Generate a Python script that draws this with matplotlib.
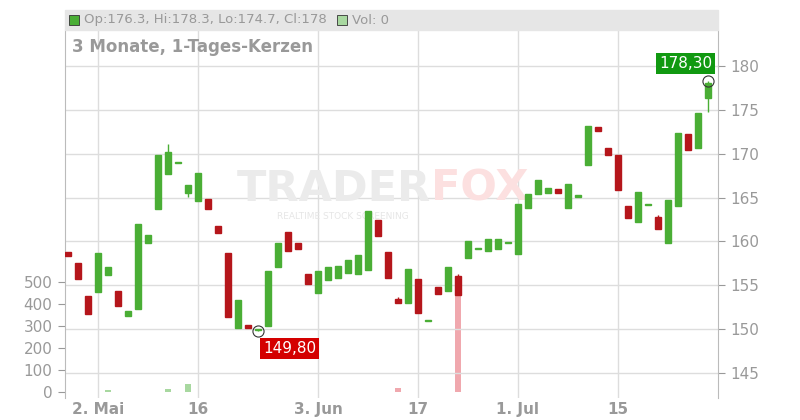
import matplotlib.pyplot as plt
from matplotlib.patches import Rectangle

# daily candles, 3 months
opens = [158.8, 157.5, 153.8, 154.2, 156.2, 154.3, 151.5, 152.3, 159.8, 163.7,
         167.7, 168.9, 165.5, 164.6, 164.8, 161.8, 158.7, 150.1, 150.5, 149.9,
         150.3, 157.1, 161.1, 159.8, 156.3, 154.1, 155.6, 155.8, 156.4, 156.3,
         156.7, 162.4, 158.8, 153.4, 153.0, 155.7, 150.9, 154.8, 154.3, 156.0,
         158.1, 159.1, 158.9, 159.1, 159.8, 158.6, 163.8, 165.4, 165.5, 166.0,
         163.8, 165.1, 168.7, 173.0, 170.6, 169.9, 164.0, 162.2, 164.1, 162.8,
         159.8, 164.0, 172.2, 170.6, 176.3]
closes = [158.3, 155.7, 151.7, 158.7, 157.1, 152.6, 152.1, 162.0, 160.7, 169.9,
          170.2, 168.9, 166.4, 167.8, 163.7, 161.0, 151.4, 153.3, 150.1, 150.0,
          156.6, 159.8, 158.9, 159.1, 155.1, 156.6, 157.1, 157.2, 157.9, 158.4,
          163.5, 160.6, 155.8, 153.0, 156.9, 151.8, 150.9, 154.0, 157.1, 153.9,
          160.0, 159.1, 160.3, 160.3, 159.8, 164.3, 165.4, 167.0, 166.1, 165.5,
          166.5, 165.1, 173.2, 172.6, 169.9, 165.9, 162.7, 165.6, 164.1, 161.4,
          164.7, 172.4, 170.4, 174.6, 178.0]
highs = [max(o, c) for o, c in zip(opens, closes)]
lows = [min(o, c) for o, c in zip(opens, closes)]
highs[10] = 171.1
lows[12] = 165.1
lows[19] = 149.8
highs[33] = 153.6
highs[39] = 156.3
highs[59] = 163.0
highs[64], lows[64] = 178.3, 174.7
volumes = [0] * 65
volumes[4] = 10
volumes[10] = 15
volumes[12] = 35
volumes[33] = 20
volumes[39] = 520

tick_pos = [3, 13, 25, 35, 45, 55]
tick_labels = ['2. Mai', '16', '3. Jun', '17', '1. Jul', '15']

GREEN = '#4aae35'
RED = '#b5161b'
GRID = '#dddddd'
TXT = '#999999'

fig = plt.figure(figsize=(8, 4.2), dpi=100)
ax = fig.add_axes([65 / 800, 22 / 420, 653 / 800, 368 / 420])
axv = ax.twinx()

ax.set_xlim(-0.3, 65)
ax.set_ylim(142.14, 184.1)
axv.set_ylim(-27, 1645)

# volume bars
for i, v in enumerate(volumes):
    if v > 0:
        col = '#f0a8ae' if closes[i] < opens[i] else '#a8d8a0'
        axv.bar(i, v, width=0.6, color=col, zorder=1)

# candles
for i in range(len(opens)):
    up = closes[i] >= opens[i]
    col = GREEN if up else RED
    ax.vlines(i, lows[i], highs[i], color=col, lw=1, zorder=3)
    body = max(abs(closes[i] - opens[i]), 0.15)
    ax.add_patch(Rectangle((i - 0.33, min(opens[i], closes[i])), 0.66, body,
                           color=col, zorder=3))

# price ticks on right
ax.yaxis.tick_right()
ax.set_yticks([145, 150, 155, 160, 165, 170, 175, 180])
ax.tick_params(axis='y', colors=TXT, labelsize=11, length=5, pad=4)
ax.grid(True, color=GRID, lw=1)
ax.set_axisbelow(True)
ax.set_xticks(tick_pos)
ax.set_xticklabels(tick_labels, fontweight='bold')
ax.tick_params(axis='x', colors=TXT, labelsize=11, length=0, pad=3)

axv.yaxis.tick_left()
axv.set_yticks([0, 100, 200, 300, 400, 500])
axv.tick_params(axis='y', colors=TXT, labelsize=11, length=5, pad=4)
for a in (ax, axv):
    for s in a.spines.values():
        s.set_visible(False)
ax.spines['left'].set_visible(True)
ax.spines['left'].set_color('#bbbbbb')
ax.spines['right'].set_visible(True)
ax.spines['right'].set_color('#bbbbbb')
ax.set_zorder(axv.get_zorder() + 1)
ax.patch.set_visible(False)

# watermark
ax.text(36.3, 166.0, 'TRADER', color='#ebebeb', fontsize=31, fontweight='bold',
        ha='right', va='center', zorder=2)
ax.text(36.3, 166.0, 'FOX', color='#fce0e0', fontsize=31, fontweight='bold',
        ha='left', va='center', zorder=2)
ax.text(27.5, 162.8, 'REALTIME STOCK SCREENING', color='#e6e6e6', fontsize=6.5,
        ha='center', va='center', zorder=2)

# markers for low and last
ax.plot(19, 149.8, 'o', ms=8, mfc='none', mec='#333333', mew=0.8, zorder=5)
ax.text(19.5, 147.8, '149,80', color='white', fontsize=11, ha='left', va='center',
        bbox=dict(boxstyle='square,pad=0.2', fc='#d40000', ec='none'), zorder=6)
ax.plot(64, 178.3, 'o', ms=8, mfc='none', mec='#333333', mew=0.8, zorder=5)
ax.text(64.4, 180.3, '178,30', color='white', fontsize=11, ha='right', va='center',
        bbox=dict(boxstyle='square,pad=0.2', fc='#119911', ec='none'), zorder=6)

# header
fig.patches.append(Rectangle((65 / 800, 390 / 420), 653 / 800, 20 / 420,
                             transform=fig.transFigure, color='#e6e6e6'))
fig.patches.append(Rectangle((69 / 800, 395 / 420), 10 / 800, 10 / 420,
                             transform=fig.transFigure, fc=GREEN, ec='#333333', lw=0.6))
fig.text(84 / 800, 400 / 420, 'Op:176.3, Hi:178.3, Lo:174.7, Cl:178', color=TXT,
         fontsize=9.5, va='center')
fig.patches.append(Rectangle((337 / 800, 395 / 420), 10 / 800, 10 / 420,
                             transform=fig.transFigure, fc='#a8d8a0', ec='#333333', lw=0.6))
fig.text(352 / 800, 400 / 420, 'Vol: 0', color=TXT, fontsize=9.5, va='center')
fig.text(72 / 800, 373 / 420, '3 Monate, 1-Tages-Kerzen', color=TXT, fontsize=12,
         fontweight='bold', va='center')

fig.savefig('out.png', dpi=100)
